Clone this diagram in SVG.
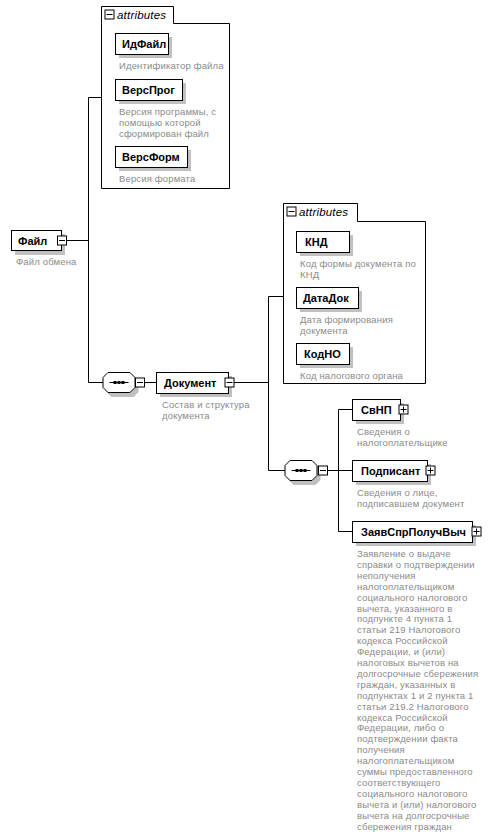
<svg xmlns="http://www.w3.org/2000/svg" width="491" height="839" viewBox="0 0 491 839">
<style>
.bg{fill:#ffffff}
.box{fill:#ffffff;stroke:#000000;stroke-width:1}
.sh{fill:#c0c0c0}
.ln{fill:none;stroke:#000000;stroke-width:1}
.lbl{font-family:"Liberation Sans",Arial,sans-serif;font-size:11px;font-weight:bold;fill:#000000}
.desc{font-family:"Liberation Sans",Arial,sans-serif;font-size:9.5px;letter-spacing:0.15px;fill:#8a8a8a}
.att{font-family:"Liberation Sans",Arial,sans-serif;font-size:11.5px;letter-spacing:0.2px;font-style:italic;fill:#000000}
.btn{fill:#ffffff;stroke:#000000;stroke-width:1}
</style>
<defs>
<g id="minus"><rect class="btn" x="0.5" y="0.5" width="9" height="9"/><path class="ln" d="M2,5H8"/></g>
<g id="plus"><rect class="btn" x="0.5" y="0.5" width="9" height="9"/><path class="ln" d="M2,5H8M5,2V8"/></g>
<g id="seq">
<polygon class="sh" points="10,4 32,4 37,9 37,20 32,25 10,25 5,20 5,9"/>
<polygon class="box" points="6.5,0.5 28.5,0.5 33.5,5.5 33.5,15.5 28.5,20.5 6.5,20.5 1.5,15.5 1.5,5.5"/>
<path class="ln" d="M8,10.5H27"/>
<rect x="12" y="9" width="3" height="3" fill="#000"/>
<rect x="16" y="9" width="3" height="3" fill="#000"/>
<rect x="20" y="9" width="3" height="3" fill="#000"/>
</g>
</defs>
<rect class="bg" x="0" y="0" width="491" height="839"/>

<g id="connectors">
<path class="ln" d="M66,240.5H88.5M88.5,97.5V382.5M88.5,97.5H101.5M88.5,382.5H103"/>
<path class="ln" d="M145,382.5H156.5M234,382.5H268.5M268.5,296.5V470.5M268.5,296.5H283.5M268.5,470.5H285"/>
<path class="ln" d="M328,470.5H338.5M338.5,409.5V531.5M338.5,409.5H352.5M338.5,470.5H352.5M338.5,531.5H352.5"/>
</g>

<g id="node-Fajl">
<rect class="sh" x="15" y="234" width="50" height="21"/>
<rect class="box" x="11.5" y="230.5" width="50" height="20"/>
<use href="#minus" x="57" y="235.5"/>
<text class="lbl" x="18" y="244.5">Файл</text>
<text class="desc" x="16" y="265">Файл обмена</text>
</g>

<g id="attributes-1">
<path class="box" d="M101.5,23.5V6.5H173.5V23.5H229.5V188.5H101.5Z"/>
<use href="#minus" x="104.5" y="9.5"/>
<text class="att" x="117" y="19">attributes</text>
</g>

<g id="node-IdFajl">
<rect class="sh" x="119" y="37" width="53" height="21"/>
<rect class="box" x="115.5" y="33.5" width="53" height="21"/>
<text class="lbl" x="122" y="48">ИдФайл</text>
<text class="desc" x="119" y="68.5">Идентификатор файла</text>
</g>

<g id="node-VersProg">
<rect class="sh" x="119" y="83" width="67" height="21"/>
<rect class="box" x="115.5" y="79.5" width="67" height="21"/>
<text class="lbl" x="122" y="94">ВерсПрог</text>
<text class="desc" x="119" y="114.5">Версия программы, с</text>
<text class="desc" x="119" y="125.5">помощью которой</text>
<text class="desc" x="119" y="136.5">сформирован файл</text>
</g>

<g id="node-VersForm">
<rect class="sh" x="119" y="150" width="72" height="21"/>
<rect class="box" x="115.5" y="146.5" width="72" height="21"/>
<text class="lbl" x="122" y="161">ВерсФорм</text>
<text class="desc" x="119" y="181.5">Версия формата</text>
</g>

<g id="seq-1">
<use href="#seq" x="101.5" y="372"/>
<use href="#minus" x="135" y="377.5"/>
</g>

<g id="node-Dokument">
<rect class="sh" x="160" y="376" width="72" height="21"/>
<rect class="box" x="156.5" y="372.5" width="72" height="21"/>
<use href="#minus" x="224.5" y="377.5"/>
<text class="lbl" x="164" y="387">Документ</text>
<text class="desc" x="162" y="408">Состав и структура</text>
<text class="desc" x="162" y="419">документа</text>
</g>

<g id="attributes-2">
<path class="box" d="M283.5,221.5V203.5H357.5V221.5H425.5V383.5H283.5Z"/>
<use href="#minus" x="286.5" y="206.5"/>
<text class="att" x="299" y="216">attributes</text>
</g>

<g id="node-KND">
<rect class="sh" x="300" y="235" width="53" height="21"/>
<rect class="box" x="296.5" y="231.5" width="53" height="21"/>
<text class="lbl" x="305" y="246">КНД</text>
<text class="desc" x="300" y="266.5">Код формы документа по</text>
<text class="desc" x="300" y="277.5">КНД</text>
</g>

<g id="node-DataDok">
<rect class="sh" x="300" y="291" width="62" height="21"/>
<rect class="box" x="296.5" y="287.5" width="62" height="21"/>
<text class="lbl" x="303" y="302">ДатаДок</text>
<text class="desc" x="300" y="322.5">Дата формирования</text>
<text class="desc" x="300" y="333.5">документа</text>
</g>

<g id="node-KodNO">
<rect class="sh" x="300" y="347" width="53" height="21"/>
<rect class="box" x="296.5" y="343.5" width="53" height="21"/>
<text class="lbl" x="304" y="358">КодНО</text>
<text class="desc" x="300" y="378.5">Код налогового органа</text>
</g>

<g id="seq-2">
<use href="#seq" x="283.5" y="460"/>
<use href="#minus" x="318" y="465.5"/>
</g>

<g id="node-SvNP">
<rect class="sh" x="356" y="403" width="48" height="21"/>
<rect class="box" x="352.5" y="399.5" width="48" height="21"/>
<use href="#plus" x="398.5" y="404.5"/>
<text class="lbl" x="361" y="414">СвНП</text>
<text class="desc" x="357" y="435">Сведения о</text>
<text class="desc" x="357" y="446">налогоплательщике</text>
</g>

<g id="node-Podpisant">
<rect class="sh" x="356" y="464" width="75" height="21"/>
<rect class="box" x="352.5" y="460.5" width="75" height="21"/>
<use href="#plus" x="425.5" y="465.5"/>
<text class="lbl" x="361" y="475">Подписант</text>
<text class="desc" x="357" y="496">Сведения о лице,</text>
<text class="desc" x="357" y="507">подписавшем документ</text>
</g>

<g id="node-ZayavSprPoluchVych">
<rect class="sh" x="356" y="525" width="120" height="21"/>
<rect class="box" x="352.5" y="521.5" width="120" height="21"/>
<use href="#plus" x="471.5" y="526.5"/>
<text class="lbl" x="361" y="536">ЗаявСпрПолучВыч</text>
<text class="desc" x="357" y="557">Заявление о выдаче</text>
<text class="desc" x="357" y="567.9">справки о подтверждении</text>
<text class="desc" x="357" y="578.8">неполучения</text>
<text class="desc" x="357" y="589.7">налогоплательщиком</text>
<text class="desc" x="357" y="600.6">социального налогового</text>
<text class="desc" x="357" y="611.5">вычета, указанного в</text>
<text class="desc" x="357" y="622.4">подпункте 4 пункта 1</text>
<text class="desc" x="357" y="633.3">статьи 219 Налогового</text>
<text class="desc" x="357" y="644.2">кодекса Российской</text>
<text class="desc" x="357" y="655.1">Федерации, и (или)</text>
<text class="desc" x="357" y="666">налоговых вычетов на</text>
<text class="desc" x="357" y="676.9">долгосрочные сбережения</text>
<text class="desc" x="357" y="687.8">граждан, указанных в</text>
<text class="desc" x="357" y="698.7">подпунктах 1 и 2 пункта 1</text>
<text class="desc" x="357" y="709.6">статьи 219.2 Налогового</text>
<text class="desc" x="357" y="720.5">кодекса Российской</text>
<text class="desc" x="357" y="731.4">Федерации, либо о</text>
<text class="desc" x="357" y="742.3">подтверждении факта</text>
<text class="desc" x="357" y="753.2">получения</text>
<text class="desc" x="357" y="764.1">налогоплательщиком</text>
<text class="desc" x="357" y="775">суммы предоставленного</text>
<text class="desc" x="357" y="785.9">соответствующего</text>
<text class="desc" x="357" y="796.8">социального налогового</text>
<text class="desc" x="357" y="807.7">вычета и (или) налогового</text>
<text class="desc" x="357" y="818.6">вычета на долгосрочные</text>
<text class="desc" x="357" y="829.5">сбережения граждан</text>
</g>
</svg>
